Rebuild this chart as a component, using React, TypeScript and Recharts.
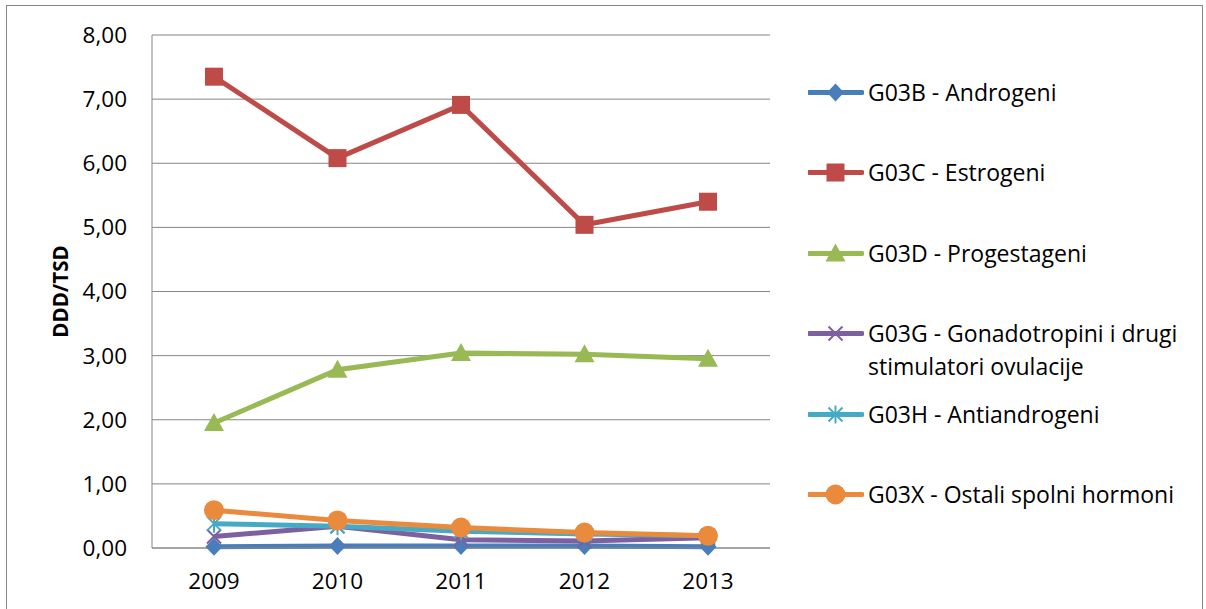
import React from 'react';
import { LineChart, Line, XAxis, YAxis, CartesianGrid } from 'recharts';

const years = ['2009', '2010', '2011', '2012', '2013'];
const androgeni = [0.02, 0.03, 0.03, 0.03, 0.02];
const estrogeni = [7.35, 6.08, 6.91, 5.04, 5.4];
const progestageni = [1.95, 2.78, 3.04, 3.02, 2.95];
const gonadotropini = [0.18, 0.34, 0.13, 0.11, 0.16];
const antiandrogeni = [0.38, 0.34, 0.26, 0.22, 0.19];
const ostali = [0.59, 0.43, 0.32, 0.24, 0.19];
const yTicks = [0, 1, 2, 3, 4, 5, 6, 7, 8];

type Shape = 'diamond' | 'square' | 'triangle' | 'x' | 'star' | 'circle';

const series: { key: string; name: string; color: string; shape: Shape; values: number[] }[] = [
  { key: 'b', name: 'G03B - Androgeni', color: '#4A7EBB', shape: 'diamond', values: androgeni },
  { key: 'c', name: 'G03C - Estrogeni', color: '#BE4B48', shape: 'square', values: estrogeni },
  { key: 'd', name: 'G03D - Progestageni', color: '#98B954', shape: 'triangle', values: progestageni },
  { key: 'g', name: 'G03G - Gonadotropini i drugi stimulatori ovulacije', color: '#7D60A0', shape: 'x', values: gonadotropini },
  { key: 'h', name: 'G03H - Antiandrogeni', color: '#46AAC5', shape: 'star', values: antiandrogeni },
  { key: 'x', name: 'G03X - Ostali spolni hormoni', color: '#E98A3C', shape: 'circle', values: ostali },
];

const data = years.map((y, i) => {
  const row: Record<string, string | number> = { year: y };
  series.forEach((s) => {
    row[s.key] = s.values[i];
  });
  return row;
});

const FONT = '"Open Sans", "Noto Sans", sans-serif';

function Marker({ shape, color, cx, cy }: { shape: Shape; color: string; cx: number; cy: number }) {
  switch (shape) {
    case 'diamond':
      return <polygon points={`${cx},${cy - 9} ${cx + 8.5},${cy} ${cx},${cy + 9} ${cx - 8.5},${cy}`} fill={color} />;
    case 'square':
      return <rect x={cx - 9} y={cy - 9} width={18} height={18} fill={color} />;
    case 'triangle':
      return <polygon points={`${cx},${cy - 10} ${cx + 10},${cy + 8} ${cx - 10},${cy + 8}`} fill={color} />;
    case 'x':
      return (
        <g stroke={color} strokeWidth={2}>
          <line x1={cx - 7} y1={cy - 7} x2={cx + 7} y2={cy + 7} />
          <line x1={cx - 7} y1={cy + 7} x2={cx + 7} y2={cy - 7} />
        </g>
      );
    case 'star':
      return (
        <g stroke={color} strokeWidth={2}>
          <line x1={cx - 7} y1={cy - 7} x2={cx + 7} y2={cy + 7} />
          <line x1={cx - 7} y1={cy + 7} x2={cx + 7} y2={cy - 7} />
          <line x1={cx} y1={cy - 9} x2={cx} y2={cy + 9} />
        </g>
      );
    case 'circle':
    default:
      return <circle cx={cx} cy={cy} r={10} fill={color} />;
  }
}

const makeDot = (shape: Shape, color: string) => (props: any) => {
  const { cx, cy, index } = props;
  if (cx == null || cy == null) return <g key={`e-${index}`} />;
  return (
    <g key={`d-${shape}-${index}`}>
      <Marker shape={shape} color={color} cx={cx} cy={cy} />
    </g>
  );
};

const fmt = (v: number) => v.toFixed(2).replace('.', ',');

const LegendBox = () => (
  <div style={{ position: 'absolute', left: 808, top: 75.5, width: 395, fontFamily: FONT, fontSize: 23, color: '#000' }}>
    {series.map((s) => (
      <div key={s.key} style={{ height: 80.6, display: 'flex', alignItems: 'flex-start' }}>
        <svg width={56} height={33} style={{ flex: 'none' }}>
          <line x1={1} y1={16.5} x2={54} y2={16.5} stroke={s.color} strokeWidth={5} strokeLinecap="round" />
          <Marker shape={s.shape} color={s.color} cx={27.5} cy={16.5} />
        </svg>
        <div style={{ marginLeft: 4, lineHeight: '33px', width: 325, whiteSpace: 'normal' }}>{s.name}</div>
      </div>
    ))}
  </div>
);

const YTitle = (props: any) => {
  const vb = props.viewBox || { x: 0, y: 35, width: 152, height: 513 };
  const x = vb.x + 60;
  const y = vb.y + vb.height / 2;
  return (
    <text
      x={x}
      y={y}
      transform={`rotate(-90, ${x}, ${y})`}
      textAnchor="middle"
      dominantBaseline="central"
      fontFamily={FONT}
      fontWeight="bold"
      fontSize={20.5}
      fill="#000"
    >
      DDD/TSD
    </text>
  );
};

export default function App() {
  return (
    <div style={{ position: 'absolute', left: 0, top: 0, width: 1206, height: 609, background: '#fff', overflow: 'hidden' }}>
      <div
        style={{
          position: 'absolute',
          left: 6,
          top: 5,
          width: 1197,
          height: 640,
          border: '1px solid #868686',
          boxSizing: 'border-box',
        }}
      />
      <div style={{ position: 'absolute', left: 0, top: 0 }}>
        <LineChart
          width={1206}
          height={609}
          data={data}
          margin={{ top: 35, right: 436, left: 0, bottom: 0 }}
          style={{ fontFamily: FONT }}
        >
          <CartesianGrid vertical={false} stroke="#868686" strokeWidth={1} />
          <XAxis
            dataKey="year"
            height={61}
            padding={{ left: 62, right: 62 }}
            axisLine={{ stroke: '#868686' }}
            tickLine={false}
            tickSize={0}
            tickMargin={25}
            tick={{ fill: '#000', fontSize: 22.5, fontFamily: FONT }}
          />
          <YAxis
            width={152}
            domain={[0, 8]}
            ticks={yTicks}
            interval={0}
            tickFormatter={fmt}
            axisLine={{ stroke: '#868686' }}
            tickLine={false}
            tickSize={0}
            tickMargin={25}
            tick={{ fill: '#000', fontSize: 22.5, fontFamily: FONT }}
            label={<YTitle />}
          />
          {series.map((s) => (
            <Line
              key={s.key}
              dataKey={s.key}
              name={s.name}
              stroke={s.color}
              strokeWidth={5}
              type="linear"
              dot={makeDot(s.shape, s.color)}
              activeDot={false}
              isAnimationActive={false}
            />
          ))}
        </LineChart>
      </div>
      <LegendBox />
    </div>
  );
}
